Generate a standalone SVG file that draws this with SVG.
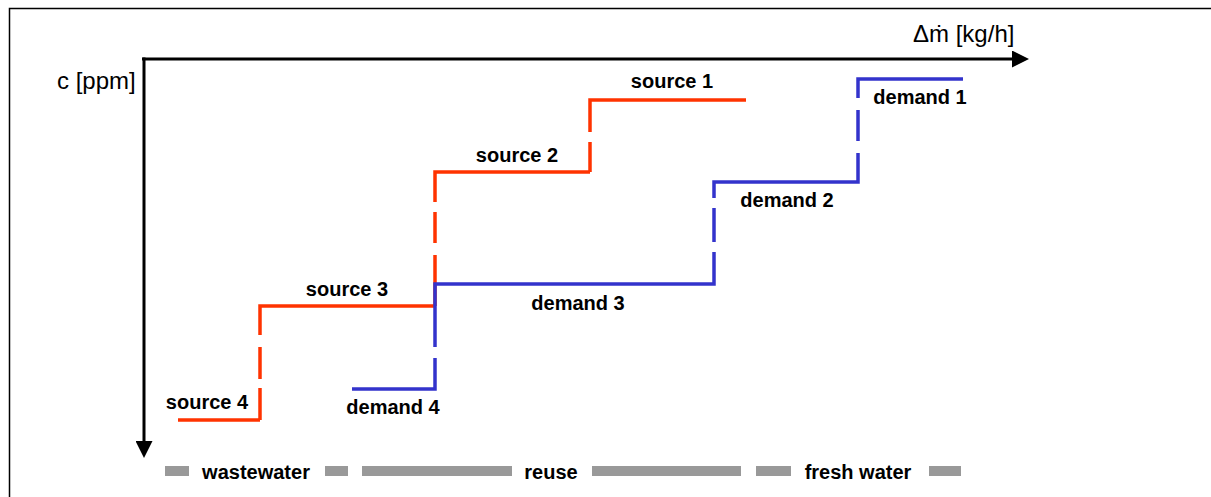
<svg xmlns="http://www.w3.org/2000/svg" width="1211" height="497" viewBox="0 0 1211 497">
<style>
.lbl{font-family:"Liberation Sans",Arial,sans-serif;font-weight:bold;font-size:20px;fill:#000;text-anchor:middle}
.ax{font-family:"Liberation Sans",Arial,sans-serif;font-size:24px;fill:#000}
.src{fill:none;stroke:#FF3300;stroke-width:3.5;stroke-linejoin:miter;stroke-linecap:butt}
.dem{fill:none;stroke:#3333CC;stroke-width:3.5;stroke-linejoin:miter;stroke-linecap:butt}
.axis{fill:none;stroke:#000;stroke-width:3}
.bar{fill:#999999}
</style>
<defs>
<marker id="ah" viewBox="0 0 10 10" refX="0" refY="5" markerWidth="17" markerHeight="17" markerUnits="userSpaceOnUse" orient="auto">
<path d="M0,0 L10,5 L0,10 Z" fill="#000"/>
</marker>
</defs>
<rect x="9.5" y="8.5" width="1220" height="500" fill="#fff" stroke="#000" stroke-width="1.5"/>
<g id="axes">
<line class="axis" x1="142" y1="59" x2="1012" y2="59" marker-end="url(#ah)"/>
<line class="axis" x1="144" y1="57.5" x2="144" y2="441" marker-end="url(#ah)"/>
<text class="ax" x="913" y="42">Δṁ [kg/h]</text>
<text class="ax" x="57" y="89">c [ppm]</text>
</g>
<g id="sources">
<path class="src" d="M178,420 H260 M260,420 V388 M260,379 V347 M260,335 V306 H435 M435,306 V255 M435,243 V212 M435,202 V172 H590 M590,172 V142 M590,132 V100 H746"/>
</g>
<g id="demands">
<path class="dem" d="M352,389 H435 V358 M435,347 V284 H714 V252 M714,242 V208 M714,198 V182 H858 V153 M858,141 V110 M858,98 V79 H963"/>
</g>
<g id="labels">
<text class="lbl" x="672" y="88">source 1</text>
<text class="lbl" x="517" y="162">source 2</text>
<text class="lbl" x="347" y="296">source 3</text>
<text class="lbl" x="207" y="409">source 4</text>
<text class="lbl" x="920" y="104">demand 1</text>
<text class="lbl" x="787" y="207">demand 2</text>
<text class="lbl" x="578" y="310">demand 3</text>
<text class="lbl" x="393" y="414">demand 4</text>
</g>
<g id="legend">
<rect class="bar" x="165" y="466" width="24" height="10"/>
<rect class="bar" x="325" y="466" width="23" height="10"/>
<rect class="bar" x="362" y="466" width="150" height="10"/>
<rect class="bar" x="592" y="466" width="149" height="10"/>
<rect class="bar" x="756" y="466" width="35" height="10"/>
<rect class="bar" x="929" y="466" width="32" height="10"/>
<text class="lbl" x="256" y="479">wastewater</text>
<text class="lbl" x="551" y="479">reuse</text>
<text class="lbl" x="858" y="479">fresh water</text>
</g>
</svg>
